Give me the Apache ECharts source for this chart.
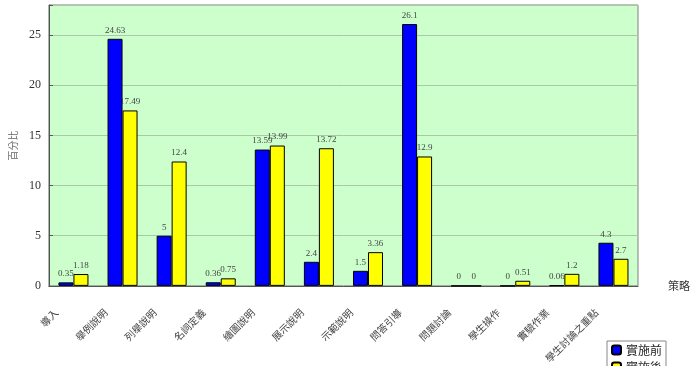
<!DOCTYPE html>
<html>
<head>
<meta charset="utf-8">
<script src="https://cdn.jsdelivr.net/npm/echarts@6/dist/echarts.min.js"></script>
<style>
html,body{margin:0;padding:0;background:#fff;}
#chart{width:693px;height:366px;}
</style>
</head>
<body>
<div id="chart"></div>
<script>
var categories = ['導入','舉例說明','列舉說明','名詞定義','繪圖說明','展示說明','示範說明','問答引導','問題討論','學生操作','實驗作業','學生討論之重點'];
var seriesNames = ['實施前','實施後'];
var before = [0.35, 24.63, 5, 0.36, 13.59, 2.4, 1.5, 26.1, 0, 0, 0.06, 4.3];
var after = [1.18, 17.49, 12.4, 0.75, 13.99, 13.72, 3.36, 12.9, 0, 0.51, 1.2, 2.7];
var yTicks = [0, 5, 10, 15, 20, 25];

var chart = echarts.init(document.getElementById('chart'));

var labelStyle = {
    show: true,
    position: 'top',
    distance: 4,
    fontSize: 9,
    fontFamily: 'Liberation Serif',
    color: '#444'
};

var option = {
    animation: false,
    backgroundColor: '#fff',
    grid: {
        left: 36, right: 55, top: 5, bottom: 79,
        show: true,
        backgroundColor: '#CCFFCC',
        borderColor: '#808080',
        borderWidth: 1
    },
    legend: {
        orient: 'vertical',
        left: 607, top: 341,
        height: 60,
        data: seriesNames,
        itemWidth: 9, itemHeight: 9, itemGap: 5,
        padding: [3, 4],
        backgroundColor: '#fff',
        borderColor: '#888',
        borderWidth: 1,
        textStyle: {fontSize: 12, color: '#222', fontFamily: 'Noto Sans CJK TC'}
    },
    xAxis: {
        type: 'category',
        data: categories,
        name: '策略',
        nameLocation: 'end',
        nameGap: 30,
        nameTextStyle: {fontSize: 11, color: '#333', fontFamily: 'Noto Sans CJK TC', padding: [0, 0, 8, 0]},
        axisLine: {lineStyle: {color: '#555'}},
        axisTick: {inside: true, length: 4, lineStyle: {color: '#555'}},
        axisLabel: {
            rotate: 45,
            interval: 0,
            margin: 8,
            padding: [0, 24, 0, 0],
            fontSize: 10,
            color: '#444',
            fontFamily: 'Noto Sans CJK TC'
        }
    },
    yAxis: {
        type: 'value',
        min: 0, max: 28, interval: 5,
        name: '百分比',
        nameLocation: 'middle',
        nameRotate: 90,
        nameGap: 30,
        nameTextStyle: {fontSize: 10, color: '#666', fontFamily: 'Noto Sans CJK TC'},
        axisLine: {show: true, lineStyle: {color: '#555'}},
        axisTick: {show: true, inside: true, length: 4, lineStyle: {color: '#555'}},
        axisLabel: {
            fontSize: 12,
            color: '#333',
            fontFamily: 'Liberation Serif',
            margin: 8,
            formatter: function (v) { return yTicks.indexOf(v) >= 0 ? v : ''; }
        },
        splitLine: {lineStyle: {color: '#A8C8A8', width: 1}}
    },
    series: [
        {
            name: seriesNames[0],
            type: 'bar',
            data: before,
            barWidth: 15,
            barGap: '0%',
            itemStyle: {color: '#0000FF', borderColor: '#000', borderWidth: 1},
            label: labelStyle
        },
        {
            name: seriesNames[1],
            type: 'bar',
            data: after,
            barWidth: 15,
            itemStyle: {color: '#FFFF00', borderColor: '#000', borderWidth: 1},
            label: labelStyle
        }
    ]
};
chart.setOption(option);
</script>
</body>
</html>
